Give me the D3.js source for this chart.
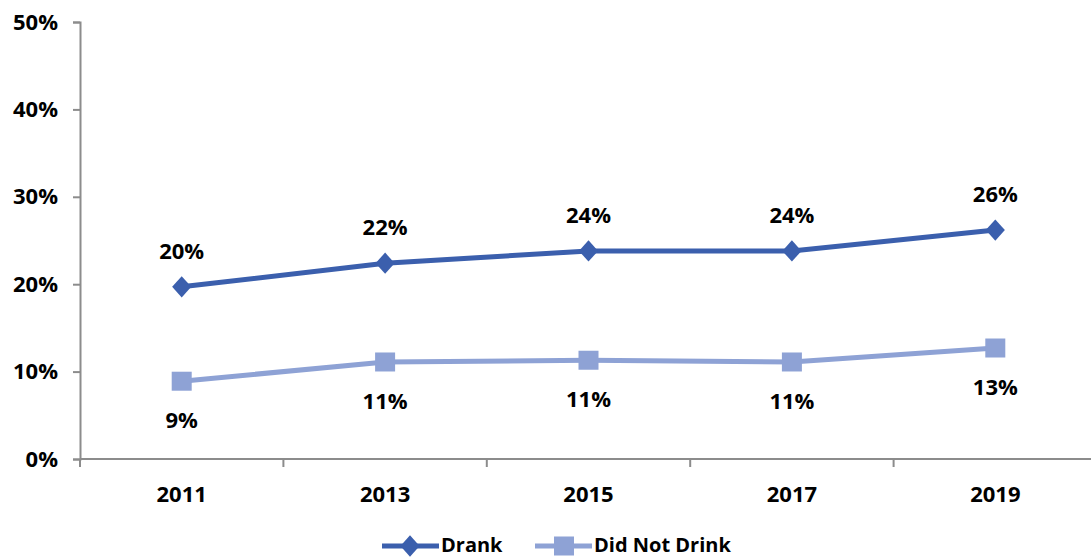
<!DOCTYPE html>
<html><head><meta charset="utf-8">
<script src="https://cdn.jsdelivr.net/npm/d3@7"></script>
<style>body{margin:0;background:#fff}svg{display:block}text{font-family:"Open Sans",sans-serif;font-weight:700;fill:#000}</style>
</head><body><svg id="c" width="1091" height="559"></svg>
<script>
const years = ["2011","2013","2015","2017","2019"];
const drank = [19.7, 22.4, 23.8, 23.8, 26.2];
const notDrank = [8.9, 11.1, 11.3, 11.1, 12.7];
const drankLabels = ["20%","22%","24%","24%","26%"];
const notDrankLabels = ["9%","11%","11%","11%","13%"];
const yTicks = [0,10,20,30,40,50];

const svg = d3.select("#c");
const L = 80, T = 22, B = 459, W = 1017;
const x = d3.scaleBand().domain(years).range([L, L + W]);
const y = d3.scaleLinear().domain([0,50]).range([B, T]);
const axisColor = "#8c8c8c";
const fs = "22px";

const ya = svg.append("g").attr("transform",`translate(${L},0)`)
  .call(d3.axisLeft(y).tickValues(yTicks).tickFormat(d=>d+"%").tickSize(7).tickPadding(15));
const xa = svg.append("g").attr("transform",`translate(0,${B})`)
  .call(d3.axisBottom(x).tickSize(0).tickPadding(27));
[ya, xa].forEach(a=>{
  a.select(".domain").attr("stroke",axisColor).attr("stroke-width",2);
  a.selectAll(".tick line").attr("stroke",axisColor).attr("stroke-width",2);
  a.selectAll("text").style("font-size",fs).style("font-family","'Open Sans',sans-serif").style("font-weight","700").attr("fill","#000");
});
xa.select(".domain").attr("d",`M${L},0H${L+W}`);
svg.append("g").selectAll("line").data(years).join("line")
  .attr("x1",d=>x(d)).attr("x2",d=>x(d)).attr("y1",B).attr("y2",B+8)
  .attr("stroke",axisColor).attr("stroke-width",2);

const cx = d=>x(d)+x.bandwidth()/2;
const line = d3.line().x((d,i)=>cx(years[i])).y(d=>y(d));
const c1 = "#3b5fad", c2 = "#8ea2d5";
svg.append("path").datum(drank).attr("d",line).attr("fill","none").attr("stroke",c1).attr("stroke-width",5);
svg.append("path").datum(notDrank).attr("d",line).attr("fill","none").attr("stroke",c2).attr("stroke-width",5);
const dia = d3.symbol().type(d3.symbolDiamond).size(220);
const diaT = "scale(1.2,0.77)";
svg.append("g").selectAll("path").data(drank).join("path")
  .attr("d",dia).attr("fill",c1)
  .attr("transform",(d,i)=>`translate(${cx(years[i])},${y(d)}) ${diaT}`);
const sqW = 20, sqH = 19;
svg.append("g").selectAll("rect").data(notDrank).join("rect")
  .attr("x",(d,i)=>cx(years[i])-sqW/2).attr("y",d=>y(d)-sqH/2).attr("width",sqW).attr("height",sqH).attr("fill",c2);

svg.append("g").selectAll("text").data(drank).join("text")
  .attr("x",(d,i)=>cx(years[i])).attr("y",d=>y(d)-28).attr("text-anchor","middle")
  .style("font-size",fs).text((d,i)=>drankLabels[i]);
svg.append("g").selectAll("text").data(notDrank).join("text")
  .attr("x",(d,i)=>cx(years[i])).attr("y",d=>y(d)+47).attr("text-anchor","middle")
  .style("font-size",fs).text((d,i)=>notDrankLabels[i]);

// legend
const leg = [{n:"Drank",c:c1,t:"d",x:382},{n:"Did Not Drink",c:c2,t:"s",x:535}];
const ly = 546;
leg.forEach(l=>{
  const g = svg.append("g");
  g.append("line").attr("x1",l.x).attr("x2",l.x+57).attr("y1",ly).attr("y2",ly).attr("stroke",l.c).attr("stroke-width",5);
  if(l.t==="d") g.append("path").attr("d",dia).attr("fill",l.c).attr("transform",`translate(${l.x+28},${ly}) ${diaT}`);
  else g.append("rect").attr("x",l.x+29-sqW/2).attr("y",ly-sqH/2).attr("width",sqW).attr("height",sqH).attr("fill",l.c);
  g.append("text").attr("x",l.x+59).attr("y",ly+6).style("font-size","20px").text(l.n);
});
</script></body></html>
